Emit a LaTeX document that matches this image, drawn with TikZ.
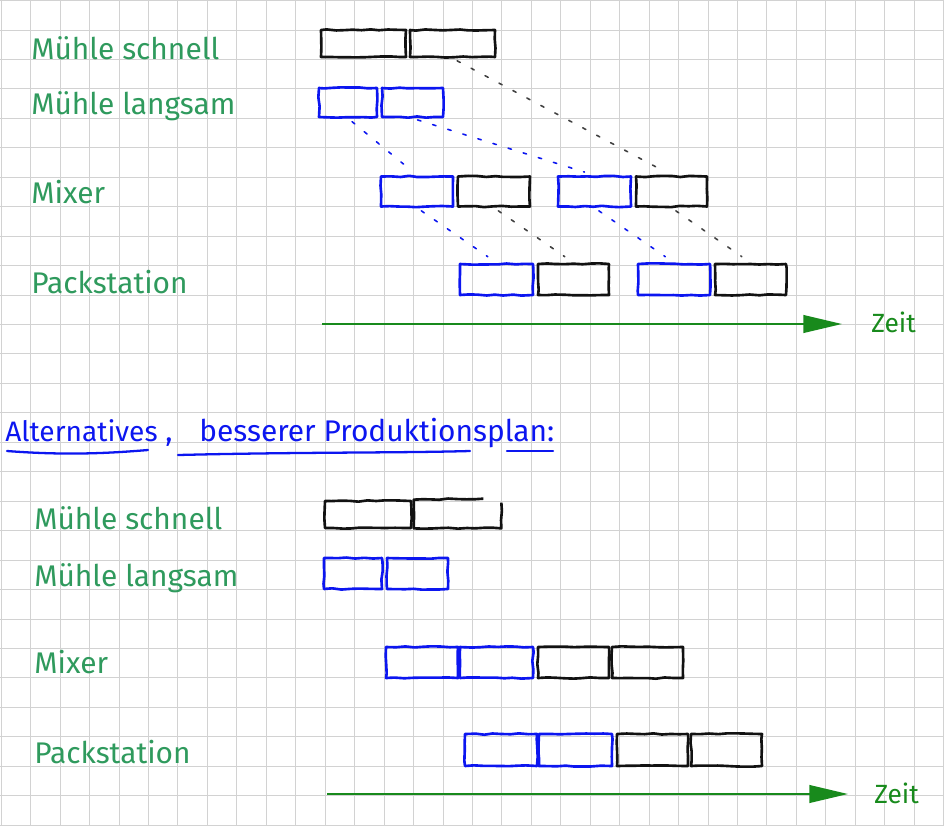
\documentclass[tikz,border=0pt]{standalone}
\usepackage{fontspec}
\setmainfont{Fira Sans}
\usetikzlibrary{arrows.meta,calc,decorations.pathmorphing}
\definecolor{gridgray}{RGB}{210,210,210}
\definecolor{labelgreen}{RGB}{47,154,93}
\definecolor{arrowgreen}{RGB}{24,138,28}
\definecolor{penblue}{RGB}{12,22,240}
\definecolor{penblack}{RGB}{18,18,18}
\tikzset{
  gridline/.style={gridgray,line width=0.55pt},
  job/.style={line width=1.5pt,line join=round,inner sep=0pt,minimum height=#1,
    decorate,decoration={random steps,segment length=5pt,amplitude=0.4pt}},
  job/.default=0.56cm,
  slowjob/.style={job,draw=penblue},
  fastjob/.style={job,draw=penblack},
  link/.style={line width=0.9pt,line cap=round,dash pattern=on 2pt off 7pt,shorten <=3pt,shorten >=6pt},
  station/.style={anchor=west,text=labelgreen,font=\fontsize{17pt}{20pt}\selectfont,inner sep=0pt},
  timeline/.style={arrowgreen,line width=1.3pt,-{Triangle[length=22pt,width=10pt]}},
  zeit/.style={anchor=west,text=arrowgreen,font=\fontsize{15pt}{18pt}\selectfont,inner sep=0pt},
  heading/.style={anchor=base west,text=penblue,font=\fontsize{17pt}{20pt}\selectfont,inner sep=0pt},
  underline/.style={penblue,line width=1.3pt,line cap=round},
}
\begin{document}
\begin{tikzpicture}[x=0.02cm,y=-0.02cm]
\pgfmathsetseed{11}
\useasboundingbox (0,0) rectangle (944,826);
% grid paper
\foreach \i in {0,...,32} \draw[gridline] (1.25+29.45*\i,0) -- ++(0,826);
\foreach \i in {0,...,28} \draw[gridline] (0,0.55+29.45*\i) -- ++(944,0);

% first plan
\node[station] (ms) at (31,48) {Mühle schnell};
\node[station] (ls) at (31,106) {Mühle langsam};
\node[station] (mx) at (31,192) {Mixer};
\node[station] (pk) at (31,282) {Packstation};

\node[fastjob,minimum width=1.70cm,minimum height=0.54cm] (ms1) at (363.5,43.5) {};
\node[fastjob,minimum width=1.70cm,minimum height=0.54cm] (ms2) at (452.5,43.5) {};
\node[slowjob,minimum width=1.16cm,minimum height=0.58cm] (ls1) at (348,102.5) {};
\node[slowjob,minimum width=1.22cm,minimum height=0.58cm] (ls2) at (412.5,102.5) {};
\node[slowjob,minimum width=1.44cm,minimum height=0.60cm] (mx1) at (417,191.5) {};
\node[fastjob,minimum width=1.44cm,minimum height=0.60cm] (mx2) at (494,191.5) {};
\node[slowjob,minimum width=1.46cm,minimum height=0.60cm] (mx3) at (594.5,191.5) {};
\node[fastjob,minimum width=1.42cm,minimum height=0.60cm] (mx4) at (671.5,191.5) {};
\node[slowjob,minimum width=1.46cm,minimum height=0.62cm] (pk1) at (496.5,279.5) {};
\node[fastjob,minimum width=1.42cm,minimum height=0.62cm] (pk2) at (573.5,279.5) {};
\node[slowjob,minimum width=1.44cm,minimum height=0.62cm] (pk3) at (674,279.5) {};
\node[fastjob,minimum width=1.42cm,minimum height=0.62cm] (pk4) at (750.5,279.5) {};

\draw[link,penblack!80] (ms2.south) -- (mx4.north);
\draw[link,penblue] (ls1.south) -- (mx1.north);
\draw[link,penblue] (ls2.south) -- (mx3.north);
\draw[link,penblue] (mx1.south) -- (pk1.north);
\draw[link,penblack!80] (mx2.south) -- (pk2.north);
\draw[link,penblue] (mx3.south) -- (pk3.north);
\draw[link,penblack!80] (mx4.south) -- (pk4.north);

\coordinate (t0) at (322,324);
\coordinate (t1) at (842,324);
\draw[timeline] (t0) -- (t1);
\node[zeit] (zeit) at (871,322) {Zeit};

% second plan
\node[heading,font=\fontsize{16pt}{19pt}\selectfont] (alt) at (5,441) {Alternatives};
\node[heading] (komma) at (165,441) {,};
\node[heading] (plan) at (199,441) {besserer Produktionsplan:};
\draw[underline] (7,451) .. controls (60,455) and (100,454) .. (148,450);
\draw[underline] (178,455) .. controls (300,452) and (400,453) .. (470,451);
\draw[underline] (507,451) -- (553,451);

\node[station] (bms) at (34,518) {Mühle schnell};
\node[station] (bls) at (34,578) {Mühle langsam};
\node[station] (bmx) at (34,662) {Mixer};
\node[station] (bpk) at (34,752) {Packstation};

\node[fastjob,minimum width=1.72cm,minimum height=0.54cm] (bms1) at (368,514.5) {};
\node[minimum width=1.74cm,minimum height=0.56cm,inner sep=0pt] (bms2) at (457.5,514) {};
\draw[penblack,line width=1.5pt,line join=round,decorate,decoration={random steps,segment length=5pt,amplitude=0.4pt}]
  ($(bms2.north east)+(-18,-1)$) -- (bms2.north west) -- (bms2.south west)
  -- (bms2.south east) -- ($(bms2.north east)+(0,3)$);
\node[slowjob,minimum width=1.16cm,minimum height=0.62cm] (bls1) at (353,573.5) {};
\node[slowjob,minimum width=1.22cm,minimum height=0.62cm] (bls2) at (417.5,573.5) {};
\node[slowjob,minimum width=1.44cm,minimum height=0.62cm] (bmx1) at (422,662.5) {};
\node[slowjob,minimum width=1.46cm,minimum height=0.62cm] (bmx2) at (496.5,662.5) {};
\node[fastjob,minimum width=1.42cm,minimum height=0.62cm] (bmx3) at (573.5,662.5) {};
\node[fastjob,minimum width=1.42cm,minimum height=0.62cm] (bmx4) at (647.5,662.5) {};
\node[slowjob,minimum width=1.44cm,minimum height=0.64cm] (bpk1) at (501,750) {};
\node[slowjob,minimum width=1.46cm,minimum height=0.64cm] (bpk2) at (575.5,750) {};
\node[fastjob,minimum width=1.42cm,minimum height=0.64cm] (bpk3) at (652.5,750) {};
\node[fastjob,minimum width=1.42cm,minimum height=0.64cm] (bpk4) at (726.5,750) {};

\coordinate (b0) at (327,794);
\coordinate (b1) at (848,794);
\draw[timeline] (b0) -- (b1);
\node[zeit] (bzeit) at (874,793) {Zeit};
\end{tikzpicture}
\end{document}
